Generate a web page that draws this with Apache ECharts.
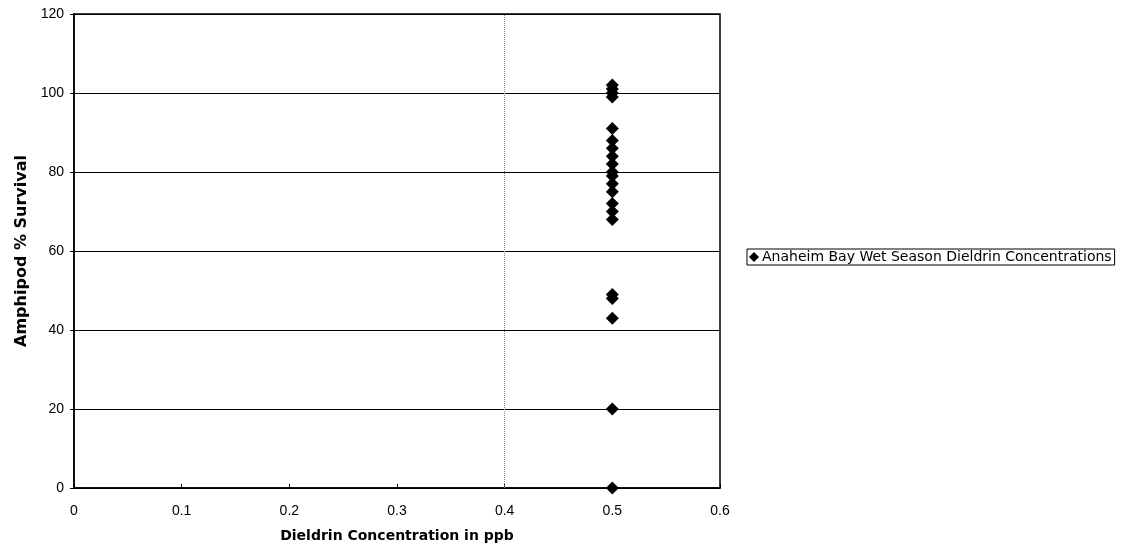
<!DOCTYPE html>
<html><head><meta charset="utf-8">
<script src="https://cdn.jsdelivr.net/npm/echarts@6/dist/echarts.min.js"></script>
<style>html,body{margin:0;padding:0;background:#fff}#c{width:1130px;height:550px}</style>
</head><body><div id="c"></div>
<script>
const seriesName = 'Anaheim Bay Wet Season Dieldrin Concentrations';
const xValues = [0.5,0.5,0.5,0.5, 0.5,0.5,0.5,0.5,0.5,0.5,0.5,0.5,0.5,0.5,0.5,0.5, 0.5,0.5,0.5,0.5,0.5];
const yValues = [102,101,100,99, 91,88,86,84,82,80,79,77,75,72,70,68, 49,48,43,20,0];
const xTicks = [0,0.1,0.2,0.3,0.4,0.5,0.6];
const yTicks = [0,20,40,60,80,100,120];
const points = xValues.map((x,i)=>[x,yValues[i]]);
const font = 'Liberation Sans, Arial, sans-serif';
const wide = 'DejaVu Sans, sans-serif';
const chart = echarts.init(document.getElementById('c'));
chart.setOption({
  animation:false,
  backgroundColor:'#fff',
  grid:{left:74,top:14,right:410,bottom:62,show:true,borderColor:'#000',borderWidth:1.5},
  xAxis:{type:'value',min:xTicks[0],max:xTicks[xTicks.length-1],interval:0.1,
    name:'Dieldrin Concentration in ppb',nameLocation:'middle',nameGap:41,
    nameTextStyle:{fontFamily:wide,fontWeight:'bold',fontSize:14,color:'#000'},
    axisLine:{show:true,lineStyle:{color:'#000',width:1.5}},
    axisTick:{show:true,length:4,inside:true,lineStyle:{color:'#000'}},
    axisLabel:{fontFamily:font,fontSize:14,color:'#000',margin:16,formatter:v=>String(+v.toFixed(1))},
    splitLine:{show:false}},
  yAxis:{type:'value',min:yTicks[0],max:yTicks[yTicks.length-1],interval:20,
    name:'Amphipod % Survival',nameLocation:'middle',nameGap:40,
    nameTextStyle:{fontFamily:wide,fontWeight:'bold',fontSize:16,color:'#000'},
    axisLine:{show:true,lineStyle:{color:'#000',width:1.5}},
    axisTick:{show:true,length:4,lineStyle:{color:'#000'}},
    axisLabel:{fontFamily:font,fontSize:14,color:'#000',margin:10},
    splitLine:{show:true,lineStyle:{color:'#000',width:1.2}}},
  legend:{show:true,left:747,top:249,orient:'horizontal',
    data:[{name:seriesName,icon:'diamond'}],
    itemWidth:10,itemHeight:10,itemGap:3,padding:[1,3,1,2],
    borderColor:'#000',borderWidth:1,borderRadius:0,
    textStyle:{fontFamily:wide,fontSize:14,color:'#000',padding:[0,0,0,-2]}},
  series:[{name:seriesName,type:'scatter',symbol:'diamond',symbolSize:13,
    itemStyle:{color:'#000',opacity:1},data:points,
    markLine:{silent:true,symbol:'none',label:{show:false},
      lineStyle:{color:'#888',type:'dotted',width:1},
      data:[{xAxis:0.4}]}}]
});
</script></body></html>
